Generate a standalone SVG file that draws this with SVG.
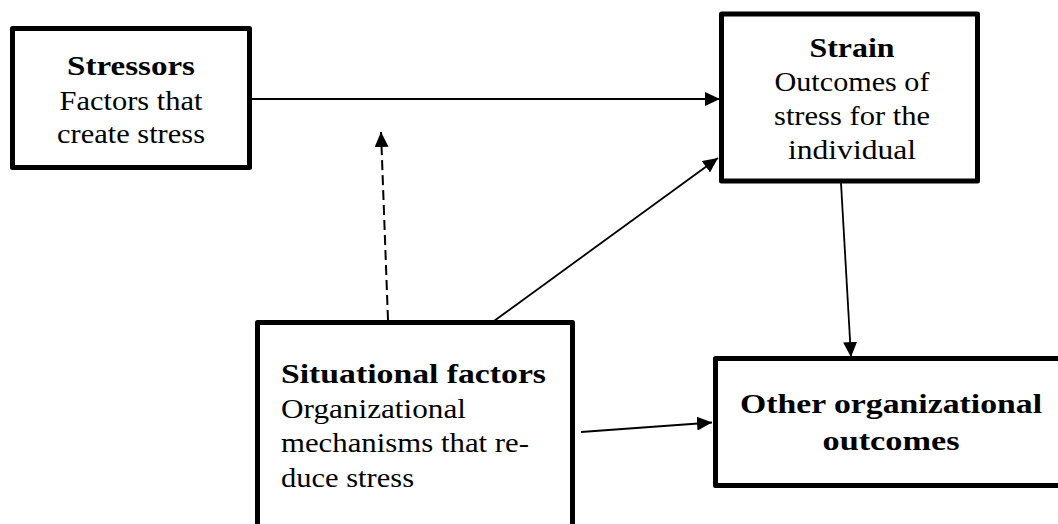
<svg xmlns="http://www.w3.org/2000/svg" width="1058" height="524" viewBox="0 0 1058 524">
<style>
.box{fill:#fff;stroke:#000;stroke-width:5;stroke-linejoin:round}
text{font-family:'Liberation Serif','DejaVu Serif','Times New Roman',serif;font-size:28px;fill:#000}
.b{font-weight:bold}
.c{text-anchor:middle}
.ln{stroke:#000;stroke-width:1.8;fill:none}
.dash{stroke-dasharray:10 5;stroke-width:2}
</style>
<defs>
<marker id="ah" markerUnits="userSpaceOnUse" markerWidth="16" markerHeight="14" refX="15" refY="7" orient="auto">
<path d="M0,0 L15,7 L0,14 z" fill="#000"/>
</marker>
</defs>
<rect width="1058" height="524" fill="#fff"/>
<g id="connectors">
<line class="ln" x1="252" y1="99" x2="720" y2="99" marker-end="url(#ah)"/>
<line class="ln dash" x1="388" y1="320" x2="381" y2="132" marker-end="url(#ah)"/>
<line class="ln" x1="494" y1="321" x2="718" y2="158" marker-end="url(#ah)"/>
<line class="ln" x1="841" y1="183" x2="851" y2="357" marker-end="url(#ah)"/>
<line class="ln" x1="581" y1="432" x2="712" y2="422.5" marker-end="url(#ah)"/>
</g>
<g id="stressors">
<rect class="box" x="12.5" y="28.5" width="237" height="139"/>
<text class="b c" x="131" y="75" textLength="128" lengthAdjust="spacingAndGlyphs">Stressors</text>
<text class="c" x="131" y="110" textLength="143" lengthAdjust="spacingAndGlyphs">Factors that</text>
<text class="c" x="131" y="143" textLength="148" lengthAdjust="spacingAndGlyphs">create stress</text>
</g>
<g id="strain">
<rect class="box" x="721.5" y="14" width="256" height="167"/>
<text class="b c" x="852" y="57" textLength="85" lengthAdjust="spacingAndGlyphs">Strain</text>
<text class="c" x="852" y="91" textLength="155" lengthAdjust="spacingAndGlyphs">Outcomes of</text>
<text class="c" x="852" y="125" textLength="156" lengthAdjust="spacingAndGlyphs">stress for the</text>
<text class="c" x="852" y="159" textLength="128" lengthAdjust="spacingAndGlyphs">individual</text>
</g>
<g id="situational">
<rect class="box" x="257.5" y="322.5" width="315" height="300"/>
<text class="b" x="281" y="383" textLength="265" lengthAdjust="spacingAndGlyphs">Situational factors</text>
<text x="281" y="418" textLength="185" lengthAdjust="spacingAndGlyphs">Organizational</text>
<text x="281" y="452" textLength="248" lengthAdjust="spacingAndGlyphs">mechanisms that re-</text>
<text x="281" y="487" textLength="133" lengthAdjust="spacingAndGlyphs">duce stress</text>
</g>
<g id="other">
<rect class="box" x="715.5" y="358.5" width="400" height="127"/>
<text class="b c" x="891" y="413" textLength="302" lengthAdjust="spacingAndGlyphs">Other organizational</text>
<text class="b c" x="891" y="450" textLength="137" lengthAdjust="spacingAndGlyphs">outcomes</text>
</g>
</svg>
